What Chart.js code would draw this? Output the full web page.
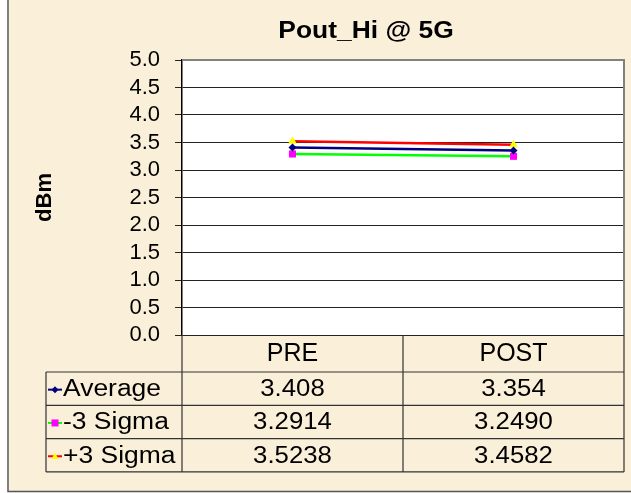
<!DOCTYPE html>
<html>
<head>
<meta charset="utf-8">
<script src="https://cdn.jsdelivr.net/npm/chart.js@4.4.1/dist/chart.umd.min.js"></script>
<style>
  html, body { margin: 0; padding: 0; background: #fff; }
  #wrap { width: 631px; height: 493px; }
</style>
</head>
<body>
<div id="wrap"><canvas id="chart" width="631" height="493"></canvas></div>
<script>
// data
const categories = ['PRE', 'POST'];
const seriesNames = ['Average', '-3 Sigma', '+3 Sigma'];
const average = [3.408, 3.354];
const minus3Sigma = [3.2914, 3.2490];
const plus3Sigma = [3.5238, 3.4582];
const decimals = [3, 4, 4];
const yTicks = [0, 0.5, 1, 1.5, 2, 2.5, 3, 3.5, 4, 4.5, 5];

const chartTitle = 'Pout_Hi @ 5G';
const yTitle = 'dBm';

const lineColors = ['#000080', '#00ff00', '#ff0000'];
const markColors = ['#000080', '#ff00ff', '#ffff00'];
const markStyles = ['rectRot', 'rect', 'triangle'];

const FONT = '"Liberation Sans", Arial, sans-serif';

// text drawn a little wider, like the excel picture
function wideText(ctx, txt, x, y, align, stretch) {
    ctx.save();
    ctx.translate(x, y);
    ctx.scale(stretch, 1);
    ctx.textAlign = align;
    ctx.fillText(txt, 0, 0);
    ctx.restore();
}

function drawMark(ctx, style, x, y, r, color) {
    ctx.save();
    ctx.fillStyle = color;
    ctx.beginPath();
    if (style === 'rect') {
        ctx.rect(x - r, y - r, 2 * r, 2 * r);
    } else if (style === 'rectRot') {
        ctx.moveTo(x, y - r); ctx.lineTo(x + r, y); ctx.lineTo(x, y + r); ctx.lineTo(x - r, y);
    } else {
        ctx.moveTo(x, y - r); ctx.lineTo(x + r, y + r * 0.8); ctx.lineTo(x - r, y + r * 0.8);
    }
    ctx.closePath();
    ctx.fill();
    ctx.restore();
}

const backdrop = {
    id: 'backdrop',
    beforeDraw(chart) {
        const ctx = chart.ctx;
        const a = chart.chartArea;
        ctx.save();
        ctx.fillStyle = '#ffffff';
        ctx.fillRect(0, 0, chart.width, chart.height);
        ctx.fillStyle = '#faefd8';
        ctx.fillRect(9, 0, chart.width - 9, 491);
        ctx.strokeStyle = '#555';
        ctx.lineWidth = 1.5;
        ctx.beginPath();
        ctx.moveTo(8, 0); ctx.lineTo(8, 491.5); ctx.lineTo(chart.width, 491.5);
        ctx.stroke();
        ctx.fillStyle = '#ffffff';
        ctx.fillRect(a.left, a.top, a.right - a.left, a.bottom - a.top);
        ctx.restore();
    }
};

const dataTable = {
    id: 'dataTable',
    afterDraw(chart) {
        const ctx = chart.ctx;
        const a = chart.chartArea;
        const x = chart.scales.x;
        const half = (x.getPixelForValue(1) - x.getPixelForValue(0)) / 2;
        const colEdges = [a.left, x.getPixelForValue(0) + half, a.right];
        const headTop = a.bottom;
        const rowTop = x.bottom;
        const rowH = 33.3;
        const tableLeft = 46;
        const tableBottom = rowTop + rowH * seriesNames.length;

        ctx.save();
        // plot frame: grey top and right
        ctx.strokeStyle = '#808080';
        ctx.lineWidth = 2;
        ctx.beginPath();
        ctx.moveTo(a.left, a.top); ctx.lineTo(a.right, a.top); ctx.lineTo(a.right, a.bottom);
        ctx.stroke();

        // table lines
        ctx.strokeStyle = '#333';
        ctx.lineWidth = 1.2;
        ctx.beginPath();
        colEdges.forEach(cx => { ctx.moveTo(cx, headTop); ctx.lineTo(cx, tableBottom); });
        ctx.moveTo(tableLeft, rowTop); ctx.lineTo(tableLeft, tableBottom);
        for (let i = 0; i <= seriesNames.length; i++) {
            const yy = rowTop + rowH * i;
            ctx.moveTo(tableLeft, yy); ctx.lineTo(a.right, yy);
        }
        ctx.stroke();

        // rows
        const all = chart.data.datasets;
        ctx.font = '23px ' + FONT;
        ctx.textBaseline = 'middle';
        all.forEach((ds, i) => {
            const cy = rowTop + rowH * i + rowH / 2 + 1;
            // legend key
            ctx.strokeStyle = lineColors[i];
            ctx.lineWidth = 2;
            ctx.beginPath();
            ctx.moveTo(tableLeft + 2, cy); ctx.lineTo(tableLeft + 16, cy);
            ctx.stroke();
            drawMark(ctx, markStyles[i], tableLeft + 9, cy, 3.5, markColors[i]);
            ctx.fillStyle = '#000';
            wideText(ctx, ds.label, tableLeft + 17, cy, 'left', 1.15);
            ds.data.forEach((v, j) => {
                wideText(ctx, v.toFixed(decimals[i]), x.getPixelForValue(j), cy, 'center', 1.12);
            });
        });

        // title
        ctx.fillStyle = '#000';
        ctx.font = 'bold 24px ' + FONT;
        wideText(ctx, chartTitle, 366, 31, 'center', 1.1);
        ctx.restore();
    }
};

const datasets = [average, minus3Sigma, plus3Sigma].map((vals, i) => ({
    label: seriesNames[i],
    data: vals,
    borderColor: lineColors[i],
    backgroundColor: markColors[i],
    borderWidth: 2.5,
    pointStyle: markStyles[i],
    pointRadius: i === 0 ? 4 : 5,
    pointBorderWidth: 0,
    pointBackgroundColor: markColors[i],
    tension: 0,
    fill: false
}));

new Chart(document.getElementById('chart'), {
    type: 'line',
    data: { labels: categories, datasets: datasets },
    options: {
        responsive: false,
        devicePixelRatio: 1,
        animation: false,
        layout: { padding: { left: 10, right: 7, top: 60, bottom: 121 } },
        plugins: {
            legend: { display: false },
            title: { display: false },
            tooltip: { enabled: false }
        },
        scales: {
            x: {
                offset: true,
                grid: { display: false, drawTicks: false },
                border: { display: false },
                ticks: { color: '#000', padding: 4, font: { family: FONT, size: 25 } },
                afterFit(scale) { scale.height = 37; }
            },
            y: {
                min: 0,
                max: 5,
                afterBuildTicks(scale) { scale.ticks = yTicks.map(v => ({ value: v })); },
                ticks: {
                    color: '#000',
                    padding: 15,
                    autoSkip: false,
                    font: { family: FONT, size: 22 },
                    callback: v => Number(v).toFixed(1)
                },
                grid: { color: '#222', lineWidth: 1, tickLength: 7 },
                border: { color: '#000', width: 1.5 },
                title: {
                    display: true,
                    text: yTitle,
                    color: '#000',
                    font: { family: FONT, size: 22, weight: 'bold' },
                    padding: { top: 22, bottom: 0 }
                },
                afterFit(scale) { scale.width = 172; }
            }
        }
    },
    plugins: [backdrop, dataTable]
});
</script>
</body>
</html>
